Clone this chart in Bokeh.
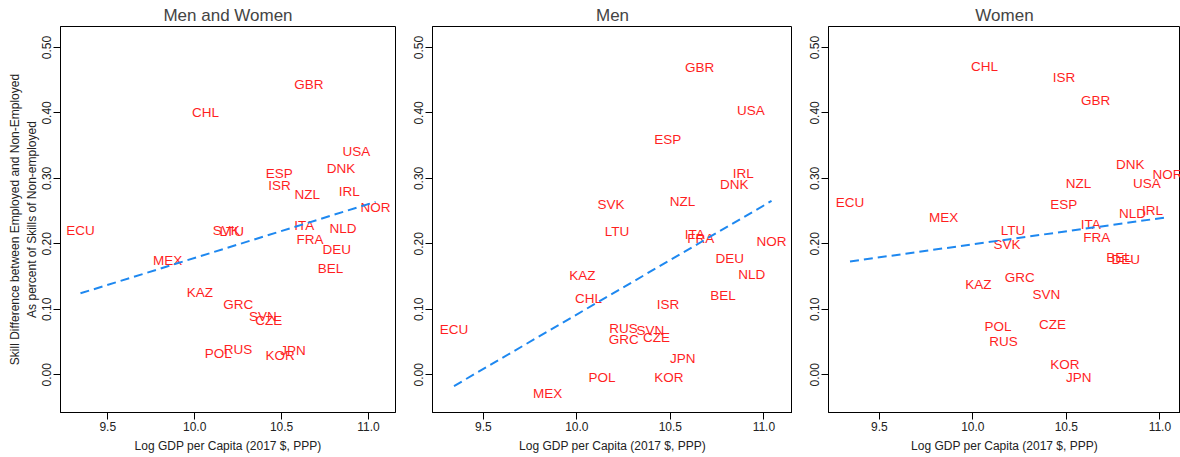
from bokeh.plotting import figure
from bokeh.layouts import row
from bokeh.models import ColumnDataSource, FixedTicker, PrintfTickFormatter, Title, Range1d
from bokeh.embed import file_html
from bokeh.resources import INLINE

# Country codes and log GDP per capita (2017 $, PPP)
countries = ["ECU", "MEX", "KAZ", "CHL", "POL", "SVK", "LTU", "GRC", "RUS", "SVN",
             "CZE", "ESP", "ISR", "KOR", "NZL", "JPN", "ITA", "GBR", "FRA", "BEL",
             "DEU", "DNK", "NLD", "IRL", "USA", "NOR"]
log_gdp = [9.343, 9.844, 10.030, 10.062, 10.135, 10.182, 10.214, 10.251, 10.249, 10.393,
           10.426, 10.486, 10.488, 10.492, 10.565, 10.566, 10.631, 10.657, 10.663, 10.782,
           10.817, 10.842, 10.854, 10.890, 10.930, 11.041]

# Skill difference between employed and non-employed, share of non-employed skills
skill_all = [0.221, 0.174, 0.126, 0.401, 0.032, 0.221, 0.219, 0.107, 0.0386, 0.089,
             0.083, 0.307, 0.289, 0.0295, 0.275, 0.037, 0.228, 0.443, 0.206, 0.163,
             0.192, 0.3145, 0.223, 0.280, 0.341, 0.255]
skill_men = [0.0687, -0.028, 0.1516, 0.116, -0.0036, 0.260, 0.219, 0.054, 0.070, 0.0676,
             0.0565, 0.359, 0.107, -0.0036, 0.2646, 0.0254, 0.2137, 0.469, 0.2076, 0.121,
             0.177, 0.2905, 0.153, 0.308, 0.4035, 0.2035]
skill_women = [0.2635, 0.2397, 0.138, 0.471, 0.0737, 0.199, 0.221, 0.148, 0.0513, 0.1226,
               0.0768, 0.260, 0.454, 0.0157, 0.2925, -0.0036, 0.229, 0.419, 0.210, 0.1786,
               0.1756, 0.3206, 0.2458, 0.251, 0.2925, 0.306]

# Linear fit per panel: (intercept, slope)
fit_all = (-0.6445, 0.0823)
fit_men = (-1.5728, 0.1665)
fit_women = (-0.1987, 0.0398)

# Small horizontal label nudges to keep overlapping codes readable
label_nudge = {
    "Men and Women": {"NZL": 0.083},
    "Men": {"NLD": 0.081},
    "Women": {"IRL": 0.07, "RUS": -0.085},
}

x_ticks = [9.5, 10.0, 10.5, 11.0]
y_ticks = [0.0, 0.1, 0.2, 0.3, 0.4, 0.5]

FONT = "Liberation Sans"
LABEL_RED = "#ff1f1f"
LINE_BLUE = "#1e88f0"
X_START = 9.228
SCALE = 187.0  # pixels per unit of log GDP


def panel(title, skills, fit, frame_w, left_border, right_border, x_end, y_title=False):
    p = figure(frame_width=frame_w, frame_height=386,
               min_border_left=left_border, min_border_right=right_border,
               min_border_top=26, min_border_bottom=45,
               x_range=Range1d(X_START, x_end), y_range=Range1d(-0.0576, 0.532),
               output_backend="svg", toolbar_location=None, title=title)
    p.title.text_font = FONT
    p.title.text_font_size = "17px"
    p.title.text_font_style = "normal"
    p.title.align = "center"
    p.title.standoff = 4
    p.xgrid.visible = False
    p.ygrid.visible = False
    p.outline_line_color = "black"
    p.outline_line_width = 1
    p.outline_line_alpha = 1.0

    for ax in (p.xaxis[0], p.yaxis[0]):
        ax.major_tick_out = 7
        ax.major_tick_in = 0
        ax.minor_tick_out = 0
        ax.minor_tick_in = 0
        ax.axis_line_color = "black"
        ax.major_tick_line_color = "black"
        ax.major_label_text_font = FONT
        ax.major_label_text_font_size = "12px"
        ax.major_label_text_color = "#222222"
        ax.major_label_standoff = 2
    p.xaxis.ticker = FixedTicker(ticks=x_ticks)
    p.xaxis.formatter = PrintfTickFormatter(format="%.1f")
    p.xaxis.axis_label = "Log GDP per Capita (2017 $, PPP)"
    p.xaxis.axis_label_text_font = FONT
    p.xaxis.axis_label_text_font_size = "12px"
    p.xaxis.axis_label_text_font_style = "normal"
    p.xaxis.axis_label_text_color = "#222222"
    p.xaxis.axis_label_standoff = 5
    p.yaxis.ticker = FixedTicker(ticks=y_ticks)
    p.yaxis.formatter = PrintfTickFormatter(format="%.2f")
    p.yaxis.major_label_orientation = "vertical"

    if y_title:
        for txt, sd in (("As percent of Skills of Non-employed", 2),
                        ("Skill Difference between Employed and Non-Employed", 0)):
            t = Title(text=txt, align="center", text_font=FONT, text_font_size="12px",
                      text_font_style="normal", text_color="#222222", standoff=sd)
            p.add_layout(t, "left")

    nudges = label_nudge.get(title, {})
    xs = [x + nudges.get(c, 0.0) for x, c in zip(log_gdp, countries)]
    src = ColumnDataSource(dict(x=xs, y=skills, code=countries))
    p.text(x="x", y="y", text="code", source=src, text_color=LABEL_RED,
           text_align="center", text_baseline="middle",
           text_font={"value": FONT}, text_font_size={"value": "13.5px"})

    x0, x1 = min(log_gdp), max(log_gdp)
    b0, b1 = fit
    p.line([x0, x1], [b0 + b1 * x0, b0 + b1 * x1], line_color=LINE_BLUE,
           line_width=2, line_dash="9 5")
    return p


p1 = panel("Men and Women", skill_all, fit_all, 335, 60, 1, X_START + 335 / 173.8, y_title=True)
p2 = panel("Men", skill_men, fit_men, 360, 36, 0, X_START + 360 / SCALE)
p3 = panel("Women", skill_women, fit_women, 352, 36, 0, X_START + 352 / SCALE)

layout = row(p1, p2, p3, spacing=0)
open("out.html", "w").write(file_html(layout, INLINE))
